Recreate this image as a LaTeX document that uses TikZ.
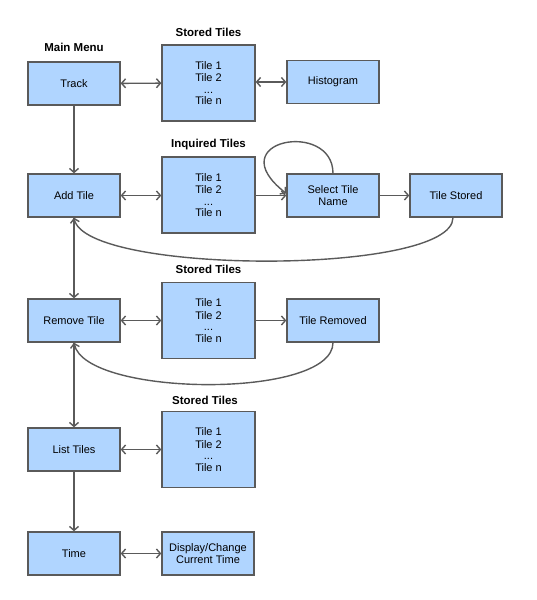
\documentclass[tikz,border=0pt]{standalone}
\usepackage{fontspec}
\setmainfont{Liberation Sans}
\usetikzlibrary{arrows.meta}
\definecolor{boxfill}{HTML}{B0D5FF}
\definecolor{boxline}{HTML}{5A5A5A}
\tikzset{
  box/.style={draw=boxline, line width=1.3pt, fill=boxfill, minimum width=92pt, minimum height=43pt, inner sep=0pt, align=center, font=\fontsize{11}{12.5}\selectfont},
  tall/.style={box, minimum height=76pt},
  lbl/.style={font=\bfseries\fontsize{11.5}{13}\selectfont},
  tip/.style={},
  conn/.style={draw=boxline, line width=1.4pt, -{Straight Barb[length=4pt,width=9pt]}},
  biconn/.style={draw=boxline, line width=1.4pt, {Straight Barb[length=4pt,width=9pt]}-{Straight Barb[length=4pt,width=9pt]}},
}
\newcommand{\tilelist}{Tile 1\\Tile 2\\[-1pt]...\\[-1pt]Tile n}
\begin{document}
\begin{tikzpicture}[x=1pt,y=-1pt]
\useasboundingbox (0,0) rectangle (537,600);
% labels
\node[lbl] (lmain) at (74,47) {Main Menu};
\node[lbl] (ls1) at (208.5,32) {Stored Tiles};
\node[lbl] (linq) at (208.5,145) {Inquired Tiles};
\node[lbl] (ls2) at (208.5,269) {Stored Tiles};
\node[lbl] (ls3) at (205,400) {Stored Tiles};
% row 1
\node[box] (track) at (74,83.5) {Track};
\node[tall, minimum width=93pt] (st1) at (208.5,83) {\tilelist};
\node[box] (hist) at (333,82) {Histogram};
% row 2
\node[box] (add) at (74,195.5) {Add Tile};
\node[tall, minimum width=93pt] (inq) at (208.5,195) {\tilelist};
\node[box] (sel) at (333,195.5) {Select Tile\\Name};
\node[box] (stored) at (456,195.5) {Tile Stored};
% row 3
\node[box] (remove) at (74,320.5) {Remove Tile};
\node[tall, minimum width=93pt] (st2) at (208.5,320.5) {\tilelist};
\node[box] (removed) at (333,320.5) {Tile Removed};
% row 4
\node[box] (list) at (74,449.5) {List Tiles};
\node[tall, minimum width=93pt] (st3) at (208.5,449.5) {\tilelist};
% row 5
\node[box] (time) at (74,553.5) {Time};
\node[box] (disp) at (208,553.5) {Display/Change\\Current Time};
% connectors
\draw[biconn] (track) -- (st1);
\draw[biconn] (st1.east |- hist) -- (hist);
\draw[conn] (track) -- (add);
\draw[biconn] (add) -- (inq.west |- add);
\draw[conn] (inq.east |- sel) -- (sel);
\draw[conn] (sel.north) .. controls ([yshift=54pt]sel.north) and (218,140) .. ([yshift=2pt]sel.west);
\draw[conn] (sel) -- (stored);
\draw[conn] ([xshift=-3pt]stored.south) .. controls ([xshift=-3pt,yshift=-58pt]stored.south) and (85,275) .. (add.south);
\draw[conn] (add) -- (remove);
\draw[biconn] (remove) -- (st2.west |- remove);
\draw[conn] (st2.east |- removed) -- (removed);
\draw[conn] (removed.south) .. controls ([yshift=-57pt]removed.south) and (85,397) .. (remove.south);
\draw[conn] (remove) -- (list);
\draw[biconn] (list) -- (st3.west |- list);
\draw[conn] (list) -- (time);
\draw[biconn] (time) -- (disp);
\end{tikzpicture}
\end{document}
